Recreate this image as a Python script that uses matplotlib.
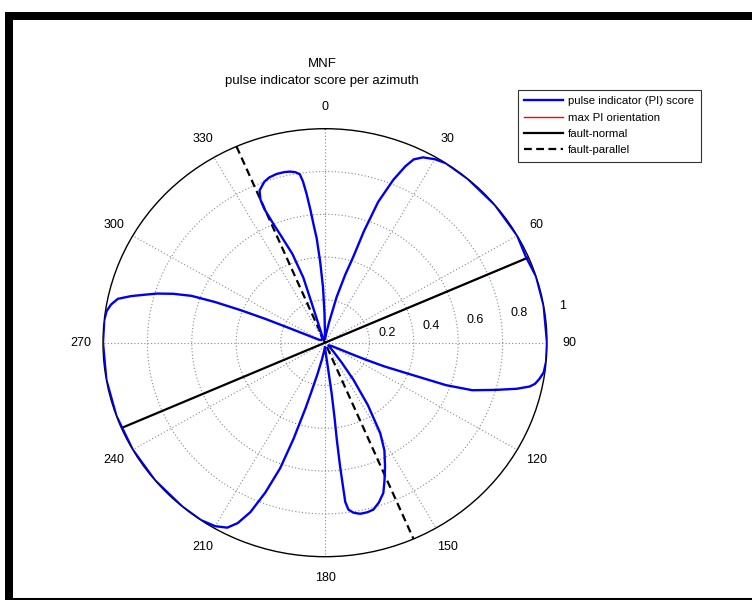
import numpy as np
import matplotlib
matplotlib.use("Agg")
import matplotlib.pyplot as plt
from matplotlib.lines import Line2D

plt.rcParams['font.family'] = ['Liberation Sans', 'DejaVu Sans']

# ---- data (azimuth in degrees, PI score) ----
pi_azimuth = [0, 4, 8, 11, 13.8, 16, 17.6, 18.6, 20, 22, 23.7, 25, 27, 30, 33, 40, 50, 60,
              66, 72, 80, 90, 95, 98, 100, 101.5, 102.5, 104, 106, 108.5, 110, 111.2, 112.5,
              113.3, 114, 115, 118,
              130, 138, 141, 143.5, 146.5, 149.5, 152, 155, 157.5, 159.5, 162, 164.4, 166.5,
              168.8, 170.8, 172.3, 173, 173.1, 173.3, 173.3, 173, 172.8, 173.5, 176, 180,
              186, 190, 193, 195, 196, 197.5, 199, 201, 203, 205, 207, 210, 214, 220, 230,
              240, 250, 260, 270, 276, 278.5, 280.5, 282.4, 284, 285.5, 286.9, 288.5, 290,
              291, 291.8, 292.5, 293, 294, 297,
              310, 325, 335, 338, 341, 342, 342.2, 340.5, 338.5, 337.3, 336.4, 336.5, 337.5,
              340, 342, 344.5, 347, 348.8, 350.5, 351.8, 352.5, 353.2, 354, 354.6, 355.6,
              356.7, 358, 359, 359.7, 360]
pi_score = [0.02, 0.03, 0.05, 0.1, 0.22, 0.33, 0.42, 0.55, 0.7, 0.82, 0.9, 0.945, 0.972,
            0.99, 1.0, 1.0, 1.0, 1.0, 0.99, 1.0, 1.0, 1.0, 1.0, 0.995, 0.98, 0.965, 0.945,
            0.89, 0.80, 0.70, 0.58, 0.395, 0.29, 0.205, 0.13, 0.07, 0.03,
            0.02, 0.06, 0.12, 0.215, 0.35, 0.49, 0.57, 0.64, 0.70, 0.75, 0.785, 0.81, 0.815,
            0.815, 0.805, 0.787, 0.75, 0.69, 0.58, 0.456, 0.35, 0.24, 0.12, 0.05, 0.02,
            0.04, 0.08, 0.15, 0.24, 0.32, 0.47, 0.62, 0.75, 0.86, 0.93, 0.97, 0.99, 1.0, 1.0,
            1.0, 1.0, 1.0, 1.0, 1.0, 1.0, 0.995, 0.98, 0.955, 0.90, 0.84, 0.79, 0.72, 0.64,
            0.53, 0.41, 0.29, 0.17, 0.08, 0.03,
            0.02, 0.02, 0.04, 0.03, 0.08, 0.18, 0.32, 0.44, 0.53, 0.6, 0.68, 0.73, 0.77,
            0.80, 0.812, 0.818, 0.818, 0.815, 0.808, 0.795, 0.76, 0.70, 0.62, 0.56, 0.49,
            0.38, 0.26, 0.14, 0.05, 0.02]

fault_normal_az = 66.5
fault_parallel_az = 336.5
max_pi_az = 66.5

angle_ticks = [0, 30, 60, 90, 120, 150, 180, 210, 240, 270, 300, 330]
angle_labels = ['0', '30', '60', '90', '120', '150', '180', '210', '240', '270', '300', '330']
radial_ticks = [0.2, 0.4, 0.6, 0.8, 1.0]
radial_labels = ['0.2', '0.4', '0.6', '0.8', '1']

title_lines = ['MNF', 'pulse indicator score per azimuth']
legend_labels = ['pulse indicator (PI) score', 'max PI orientation', 'fault-normal', 'fault-parallel']

# ---- figure ----
W, H = 752, 600
fig = plt.figure(figsize=(W / 100, H / 100), dpi=100)
fig.patch.set_facecolor('white')

cx, cy, rx, ry = 325, 342.7, 222, 214
ax = fig.add_axes([(cx - rx) / W, 1 - (cy + ry) / H, 2 * rx / W, 2 * ry / H], projection='polar')
ax.set_aspect('auto')
ax.set_theta_zero_location('N')
ax.set_theta_direction(-1)
ax.set_ylim(0, 1)
ax.grid(False)
ax.set_xticks([])
ax.set_yticks([])
ax.spines['polar'].set_color('black')
ax.spines['polar'].set_linewidth(1.0)

# grid: dotted circles and spokes
tt = np.linspace(0, 2 * np.pi, 400)
for r in radial_ticks[:-1]:
    ax.plot(tt, np.full_like(tt, r), linestyle=(0, (1, 2)), color='#888888', lw=0.8, zorder=1)
for a in angle_ticks:
    ax.plot([np.deg2rad(a), np.deg2rad(a)], [0, 1], linestyle=(0, (1, 2)),
            color='#888888', lw=0.8, zorder=1)

# labels
for a, lab in zip(angle_ticks, angle_labels):
    ax.text(np.deg2rad(a), 1.1, lab, ha='center', va='center', fontsize=9, clip_on=False)
for r, lab in zip(radial_ticks, radial_labels):
    ax.text(np.deg2rad(81), r + 0.085, lab, ha='center', va='center', fontsize=9, clip_on=False)

# lines
th = np.deg2rad(pi_azimuth)
l_pi, = ax.plot(th, pi_score, color='#0000ee', lw=1.7, zorder=5)
l_max, = ax.plot([np.deg2rad(max_pi_az), np.deg2rad(max_pi_az)], [0, 1], color='red',
                 lw=1.0, zorder=3)
l_fn, = ax.plot([np.deg2rad(fault_normal_az), 0, np.deg2rad(fault_normal_az + 180)], [1, 0, 1],
                color='black', lw=1.6, zorder=4)
l_fp, = ax.plot([np.deg2rad(fault_parallel_az), 0, np.deg2rad(fault_parallel_az - 180)], [1, 0, 1],
                color='black', lw=1.6, linestyle=(0, (3.5, 2)), zorder=4)

# title
fig.text(322 / W, 1 - 64 / H, title_lines[0], ha='center', va='center', fontsize=9.5)
fig.text(322 / W, 1 - 81 / H, title_lines[1], ha='center', va='center', fontsize=9.5)

# legend
leg = fig.legend([l_pi, l_max, l_fn, l_fp], legend_labels, loc='upper left',
                 bbox_to_anchor=(518 / W, 1 - 90 / H), borderaxespad=0, frameon=True,
                 fancybox=False, edgecolor='black', fontsize=8.2, handlelength=3.4,
                 handletextpad=0.45, labelspacing=0.56, borderpad=0.55)
leg.get_frame().set_linewidth(0.8)

# figure frame
fig.add_artist(Line2D([5 / W, 1], [1 - 16 / H, 1 - 16 / H], color='black', lw=5.76,
                      solid_capstyle='butt'))
fig.add_artist(Line2D([9 / W, 9 / W], [1 - 12 / H, 0], color='black', lw=5.76,
                      solid_capstyle='butt'))
fig.add_artist(Line2D([5 / W, 1], [1 - 598.5 / H, 1 - 598.5 / H], color='black', lw=2.2,
                      solid_capstyle='butt'))

fig.savefig('out.png', dpi=100, facecolor='white')
